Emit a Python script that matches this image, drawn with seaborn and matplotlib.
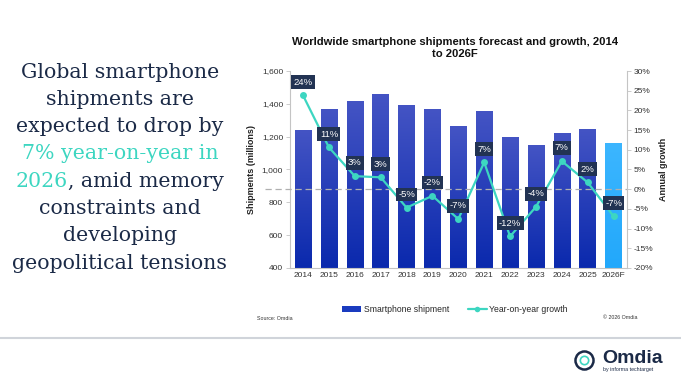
import matplotlib
matplotlib.use("Agg")
import matplotlib.pyplot as plt
import numpy as np
import pandas as pd
import seaborn as sns
from matplotlib.ticker import FuncFormatter, MultipleLocator
from matplotlib.lines import Line2D
from matplotlib.patches import Patch

# data
years = ["2014", "2015", "2016", "2017", "2018", "2019", "2020",
         "2021", "2022", "2023", "2024", "2025", "2026F"]
shipments = [1240, 1368, 1415, 1455, 1390, 1366, 1265,
             1352, 1194, 1144, 1222, 1245, 1160]
growth = [23.8, 10.6, 3.3, 3.0, -4.7, -1.7, -7.6,
          6.8, -12.0, -4.5, 7.1, 1.7, -6.9]
growth_labels = ["24%", "11%", "3%", "3%", "-5%", "-2%", "-7%",
                 "7%", "-12%", "-4%", "7%", "2%", "-7%"]

NAVY = "#1b2a47"
TEAL = "#3dd6c1"
BAR = "#1a3bbf"
FORECAST = "#2aaefc"
LABEL_BOX = "#223353"
SPINE = "#c4c4c4"
YMIN, YMAX = 400, 1600

sns.set_theme(style="white")
plt.rcParams["font.family"] = ["Liberation Sans", "DejaVu Sans"]

df = pd.DataFrame({"year": years, "shipments": shipments, "growth": growth})

fig = plt.figure(figsize=(6.81, 3.86), dpi=100)
ax = fig.add_axes([0.426, 0.306, 0.494, 0.51])

palette = [BAR] * (len(years) - 1) + [FORECAST]
sns.barplot(data=df, x="year", y="shipments", hue="year", palette=palette,
            width=0.64, legend=False, ax=ax, saturation=1)

# vertical gradient on the bars, kept inside the visible range
grad = np.linspace(0, 1, 256).reshape(-1, 1)
cmap_hist = matplotlib.colors.LinearSegmentedColormap.from_list("b", ["#0a29ad", "#4454c4"])
cmap_fc = matplotlib.colors.LinearSegmentedColormap.from_list("f", ["#22a8fb", "#3cb6ff"])
for i, p in enumerate(ax.patches):
    x0, w, top = p.get_x(), p.get_width(), p.get_y() + p.get_height()
    cm = cmap_fc if i == len(ax.patches) - 1 else cmap_hist
    ax.imshow(grad, cmap=cm, aspect="auto", origin="lower",
              extent=[x0, x0 + w, YMIN, top], zorder=p.get_zorder())
    p.set_facecolor("none")

ax.set_ylim(YMIN, YMAX)
ax.set_xlim(-0.5, len(years) - 0.5)
ax.yaxis.set_major_locator(MultipleLocator(200))
ax.yaxis.set_major_formatter(FuncFormatter(lambda v, _: f"{int(v):,}"))
ax.set_xlabel("")
ax.set_ylabel("Shipments (millions)", fontsize=6.5, fontweight="bold", color="#222222", labelpad=4)
ax.tick_params(axis="y", labelsize=6, labelcolor="#333333", color=SPINE, length=3, width=0.6, pad=2, left=True)
ax.tick_params(axis="x", labelsize=6, labelcolor="#333333", length=0, pad=3)
for s in ["top", "right"]:
    ax.spines[s].set_visible(False)
for s in ["bottom", "left"]:
    ax.spines[s].set_color(SPINE)
    ax.spines[s].set_linewidth(0.8)

ax2 = ax.twinx()
ax2.set_ylim(-20, 30)
ax2.axhline(0, xmin=-0.075, xmax=1, color="#b0b0b0", lw=0.9, ls=(0, (5, 3)),
            zorder=1, clip_on=False)
sns.lineplot(data=df, x="year", y="growth", sort=False, color=TEAL, lw=1.6,
             marker="o", markersize=5, markeredgewidth=0, ax=ax2, zorder=3)
for yr, g, lab in zip(years, growth, growth_labels):
    ax2.annotate(lab, (yr, g), xytext=(0, 9.5), textcoords="offset points",
                 ha="center", va="center", fontsize=6.8, color="white", zorder=5,
                 bbox=dict(boxstyle="square,pad=0.25", fc=LABEL_BOX, ec="none"))
ax2.yaxis.set_major_locator(MultipleLocator(5))
ax2.yaxis.set_major_formatter(FuncFormatter(lambda v, _: f"{int(v)}%"))
ax2.set_ylabel("Annual growth", fontsize=6.5, fontweight="bold", color="#222222", labelpad=4)
ax2.tick_params(axis="y", labelsize=6, labelcolor="#333333", color=SPINE, length=3, width=0.6, pad=2)
for s in ["top", "left", "bottom"]:
    ax2.spines[s].set_visible(False)
ax2.spines["right"].set_color(SPINE)
ax2.spines["right"].set_linewidth(0.8)
ax2.set_xlabel("")
ax2.set_xlim(-0.5, len(years) - 0.5)

fig.text(0.668, 0.876, "Worldwide smartphone shipments forecast and growth, 2014\nto 2026F",
         ha="center", va="center", fontsize=8.1, fontweight="bold", color="#111111",
         linespacing=1.3)

handles = [Patch(facecolor=BAR, edgecolor="none"),
           Line2D([0], [0], color=TEAL, lw=1.6, marker="o", markersize=4, markeredgewidth=0)]
fig.legend(handles, ["Smartphone shipment", "Year-on-year growth"], loc="center",
           bbox_to_anchor=(0.668, 0.198), ncol=2, frameon=False, fontsize=6.2,
           handlelength=2.2, handleheight=0.6, handletextpad=0.3, columnspacing=2.2)

fig.text(0.378, 0.176, "Source: Omdia", fontsize=3.8, color="#333333", va="center")
fig.text(0.936, 0.178, "\u00a9 2026 Omdia", fontsize=3.8, color="#333333", va="center", ha="right")

# headline text on the left
serif = ["DejaVu Serif"]
head_fs = 14.8
lines = [("Global smartphone", None), ("shipments are", None),
         ("expected to drop by", None), ("7% year-on-year in", "all"),
         ("2026, amid memory", "2026"), ("constraints and", None),
         ("developing", None), ("geopolitical tensions", None)]
cx = 0.176
y_top = 1 - 72 / 386
step = 27.3 / 386
renderer = fig.canvas.get_renderer()
for k, (txt, hl) in enumerate(lines):
    yy = y_top - k * step
    if hl is None:
        fig.text(cx, yy, txt, ha="center", va="center", fontsize=head_fs, color=NAVY, family=serif)
    elif hl == "all":
        fig.text(cx, yy, txt, ha="center", va="center", fontsize=head_fs, color=TEAL, family=serif)
    else:
        full = fig.text(cx, yy, txt, ha="center", va="center", fontsize=head_fs, alpha=0, family=serif)
        bb = full.get_window_extent(renderer)
        x_left = bb.x0 / fig.bbox.width
        t1 = fig.text(x_left, yy, hl, ha="left", va="center", fontsize=head_fs, color=TEAL, family=serif)
        b1 = t1.get_window_extent(renderer)
        fig.text(b1.x1 / fig.bbox.width, yy, txt[len(hl):], ha="left", va="center",
                 fontsize=head_fs, color=NAVY, family=serif)

# footer rule and logo
fig.add_artist(Line2D([0, 1], [1 - 338 / 386] * 2, color="#d0d4da", lw=1.5))
fig.text(0.884, 0.072, "Omdia", ha="left", va="center", fontsize=14, fontweight="bold", color=NAVY)
fig.text(0.886, 0.042, "by informa techtarget", ha="left", va="center", fontsize=3.8, color=NAVY)
fig.add_artist(Line2D([0.858], [0.067], marker="o", markersize=13, markerfacecolor="white",
                      markeredgecolor=NAVY, markeredgewidth=1.8, lw=0))
fig.add_artist(Line2D([0.858], [0.067], marker="o", markersize=6, markerfacecolor="white",
                      markeredgecolor=TEAL, markeredgewidth=1.2, lw=0))

fig.savefig("out.png", dpi=100, facecolor="white")
